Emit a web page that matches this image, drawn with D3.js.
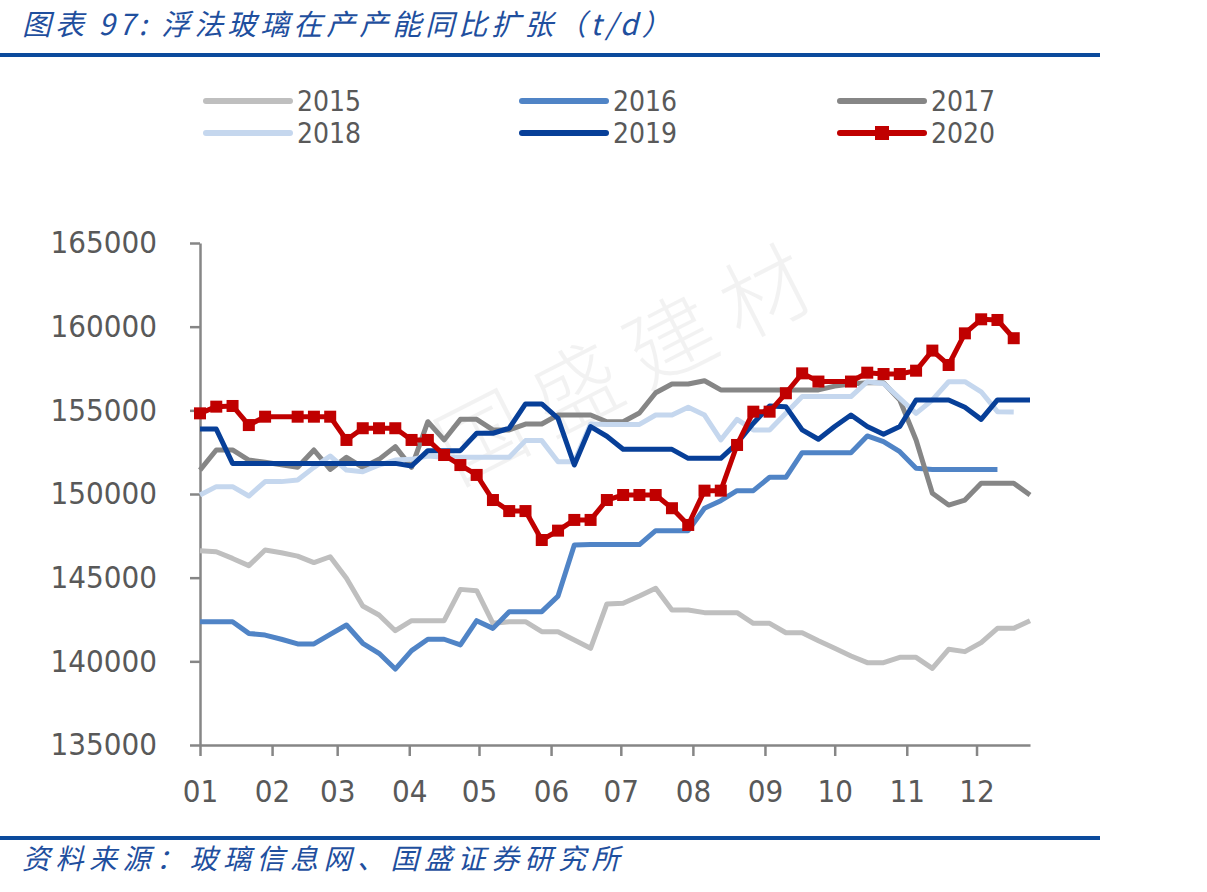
<!DOCTYPE html>
<html>
<head>
<meta charset="utf-8">
<script src="https://cdn.jsdelivr.net/npm/d3@7"></script>
<style>
  html, body { margin: 0; padding: 0; background: #fff; }
  #chart svg { display: block; }
</style>
</head>
<body>
<div id="chart"></div>
<script>
// Week positions (day of year) and month ticks
const weekDays = [0, 7, 14, 21, 28, 35, 42, 49, 56, 63, 70, 77, 84, 91, 98, 105, 112, 119, 126, 133,
  140, 147, 154, 161, 168, 175, 182, 189, 196, 203, 210, 217, 224, 231, 238, 245, 252, 259, 266, 273,
  280, 287, 294, 301, 308, 315, 322, 329, 336, 343, 350, 357];
const monthStarts = [0, 31, 59, 90, 120, 151, 181, 212, 243, 273, 304, 334];
const monthLabels = ['01', '02', '03', '04', '05', '06', '07', '08', '09', '10', '11', '12'];
const yTicks = [135000, 140000, 145000, 150000, 155000, 160000, 165000];

const years = ['2015', '2016', '2017', '2018', '2019', '2020'];

const v2015 = [146610, 146550, 146150, 145720, 146650, 146490, 146290, 145900, 146250, 144960,
  143310, 142770, 141830, 142430, 142430, 142430, 144300, 144220, 142270, 142370,
  142370, 141770, 141770, 141280, 140780, 143430, 143470, 143900, 144370, 143070,
  143070, 142910, 142910, 142910, 142270, 142270, 141710, 141710, 141230, 140780,
  140320, 139920, 139920, 140240, 140240, 139580, 140720, 140580, 141120, 141970,
  141970, 142430];
const v2016 = [142370, 142370, 142370, 141670, 141570, 141320, 141040, 141040, 141610, 142170,
  141080, 140480, 139540, 140640, 141320, 141320, 140980, 142430, 141970, 142970,
  142970, 142970, 143900, 146950, 146980, 146980, 146980, 146980, 147810, 147810,
  147810, 149150, 149600, 150200, 150200, 151000, 151000, 152470, 152470, 152470,
  152470, 153470, 153130, 152530, 151540, 151470, 151470, 151470, 151470, 151470];
const v2017 = [151430, 152630, 152630, 152030, 151900, 151750, 151600, 152630, 151470, 152190,
  151590, 152070, 152830, 151590, 154320, 153230, 154460, 154460, 153830, 153830,
  154180, 154180, 154720, 154720, 154720, 154320, 154320, 154840, 156050, 156570,
  156570, 156770, 156220, 156220, 156220, 156220, 156220, 156220, 156220, 156450,
  156570, 156650, 156650, 155620, 153230, 150040, 149340, 149640, 150640, 150640,
  150640, 149940];
const v2018 = [149940, 150440, 150440, 149880, 150740, 150740, 150840, 151590, 152270, 151430,
  151330, 151730, 152030, 152070, 152270, 152190, 152190, 152190, 152190, 152190,
  153190, 153190, 151930, 151930, 154180, 154160, 154160, 154160, 154720, 154720,
  155180, 154720, 153230, 154460, 153830, 153830, 154820, 155820, 155820, 155820,
  155820, 156710, 156610, 155720, 154820, 155620, 156710, 156710, 156110, 154920,
  154900];
const v2019 = [153880, 153880, 151830, 151830, 151830, 151830, 151830, 151830, 151830, 151830,
  151830, 151830, 151830, 151670, 152590, 152590, 152590, 153630, 153630, 153930,
  155380, 155380, 154520, 151730, 154030, 153450, 152670, 152670, 152670, 152670,
  152130, 152130, 152130, 153030, 154230, 155260, 155220, 153830, 153270, 154030,
  154720, 154030, 153570, 154030, 155620, 155620, 155620, 155180, 154460, 155620,
  155620, 155620];
const v2020 = [154820, 155220, 155260, 154120, 154620, null, 154620, 154620, 154620, 153230,
  153930, 153930, 153930, 153230, 153230, 152330, 151730, 151140, 149640, 148980,
  148980, 147250, 147810, 148450, 148450, 149640, 149940, 149940, 149940, 149150,
  148150, 150200, 150200, 152930, 154920, 154920, 156020, 157210, 156720, null,
  156720, 157250, 157170, 157170, 157370, 158570, 157710, 159600, 160440, 160400,
  159310];

const seriesValues = [v2015, v2016, v2017, v2018, v2019, v2020];
const colors = ['#bfbfbf', '#5084c6', '#868686', '#c5d7ee', '#073f98', '#c00000'];

const W = 1207, H = 892;
const margin = { top: 243, left: 200 };
const width = 830, height = 502;
const numFont = '"DejaVu Sans Condensed", "Liberation Sans", sans-serif';
const cjkFont = '"Noto Sans CJK SC", sans-serif';

const root = d3.select('#chart').append('svg')
  .attr('width', W).attr('height', H);

root.append('rect').attr('width', W).attr('height', H).attr('fill', '#fff');

// Title and rules
root.append('text')
  .attr('x', 22).attr('y', 35)
  .attr('font-family', cjkFont)
  .attr('font-size', 29)
  .attr('font-style', 'italic')
  .attr('letter-spacing', 4)
  .attr('fill', '#1f4f9e')
  .text('图表 97: 浮法玻璃在产产能同比扩张（t/d）');

root.append('rect').attr('x', 0).attr('y', 53).attr('width', 1100).attr('height', 4).attr('fill', '#0b4a9c');
root.append('rect').attr('x', 0).attr('y', 836).attr('width', 1100).attr('height', 4).attr('fill', '#0b4a9c');

root.append('text')
  .attr('x', 22).attr('y', 869)
  .attr('font-family', cjkFont)
  .attr('font-size', 28)
  .attr('font-style', 'italic')
  .attr('letter-spacing', 5.5)
  .attr('fill', '#1f4f9e')
  .text('资料来源：玻璃信息网、国盛证券研究所');

// Watermark
root.append('text')
  .attr('transform', 'translate(635,368) rotate(-27)')
  .attr('text-anchor', 'middle')
  .attr('dominant-baseline', 'middle')
  .attr('font-family', cjkFont)
  .attr('font-weight', 300)
  .attr('font-size', 88)
  .attr('letter-spacing', 18)
  .attr('fill', '#000')
  .attr('fill-opacity', 0.05)
  .text('国盛建材');

const svg = root.append('g')
  .attr('transform', `translate(${margin.left},${margin.top})`);

const x = d3.scaleLinear().domain([0, 357]).range([0, width]);
const y = d3.scaleLinear().domain([135000, 165000]).range([height, 0]);

// Axes
const yAxis = d3.axisLeft(y).tickValues(yTicks).tickSize(10).tickSizeOuter(0).tickPadding(33)
  .tickFormat(d3.format('d'));
const xAxis = d3.axisBottom(x).tickValues(monthStarts).tickSize(11).tickSizeOuter(0).tickPadding(24)
  .tickFormat((d, i) => monthLabels[i]);

const gy = svg.append('g').call(yAxis);
const gx = svg.append('g').attr('transform', `translate(0,${height})`).call(xAxis);

[gx, gy].forEach(g => {
  g.selectAll('path, line').attr('stroke', '#868686').attr('stroke-width', 2.5);
  g.selectAll('text')
    .attr('fill', '#595959')
    .style('font-family', numFont)
    .style('font-size', '31px');
});

// Lines
const line = d3.line()
  .x(d => x(d.day))
  .y(d => y(d.v));

seriesValues.forEach((vals, k) => {
  const pts = vals.map((v, i) => ({ day: weekDays[i], v: v })).filter(p => p.v !== null);
  svg.append('path')
    .datum(pts)
    .attr('fill', 'none')
    .attr('stroke', colors[k])
    .attr('stroke-width', 5)
    .attr('stroke-linejoin', 'round')
    .attr('d', line);
  if (years[k] === '2020') {
    svg.selectAll('.mk')
      .data(pts)
      .enter()
      .append('rect')
      .attr('class', 'mk')
      .attr('x', d => x(d.day) - 6)
      .attr('y', d => y(d.v) - 6)
      .attr('width', 12)
      .attr('height', 12)
      .attr('fill', colors[k]);
  }
});

// Legend
const legX = [206, 522, 840];
const legY = [101, 133];
const leg = root.append('g');
years.forEach((yr, k) => {
  const lx = legX[k % 3], ly = legY[Math.floor(k / 3)];
  leg.append('line')
    .attr('x1', lx).attr('x2', lx + 84)
    .attr('y1', ly).attr('y2', ly)
    .attr('stroke', colors[k])
    .attr('stroke-width', 6)
    .attr('stroke-linecap', 'round');
  if (yr === '2020') {
    leg.append('rect')
      .attr('x', lx + 42 - 7).attr('y', ly - 7)
      .attr('width', 14).attr('height', 14)
      .attr('fill', colors[k]);
  }
  leg.append('text')
    .attr('x', lx + 91).attr('y', ly + 10)
    .attr('font-family', numFont)
    .attr('font-size', 28)
    .attr('fill', '#595959')
    .text(yr);
});
</script>
</body>
</html>
